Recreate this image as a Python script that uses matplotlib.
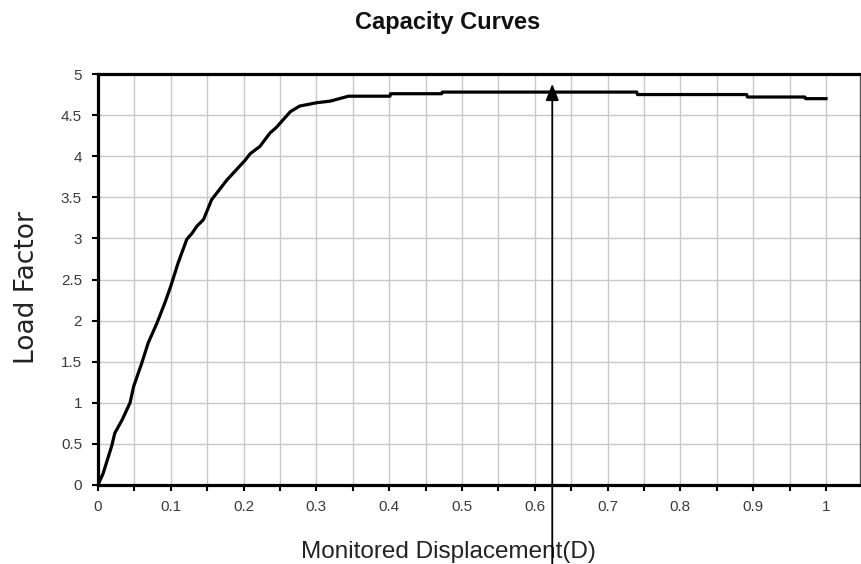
import matplotlib
matplotlib.use('Agg')
import matplotlib.pyplot as plt
from matplotlib.ticker import MultipleLocator

# Capacity curve
displacement = [0, 0.007, 0.019, 0.023, 0.033, 0.044, 0.049, 0.060, 0.069, 0.081,
                0.092, 0.100, 0.110, 0.122, 0.129, 0.136, 0.145, 0.156, 0.177, 0.202,
                0.209, 0.2225, 0.236, 0.245, 0.264, 0.277, 0.300, 0.319, 0.344, 0.401,
                0.402, 0.472, 0.473, 0.740, 0.741, 0.891, 0.892, 0.971, 0.972, 1.0]
load_factor = [0, 0.14, 0.48, 0.63, 0.79, 1.0, 1.20, 1.48, 1.73, 1.97,
               2.22, 2.42, 2.70, 2.99, 3.06, 3.15, 3.23, 3.47, 3.71, 3.95,
               4.03, 4.12, 4.28, 4.35, 4.54, 4.61, 4.65, 4.67, 4.73, 4.73,
               4.76, 4.76, 4.78, 4.78, 4.75, 4.75, 4.72, 4.72, 4.70, 4.70]

# performance point marker
arrow_x = 0.624
arrow_tip = 4.88

x_ticks = [0, 0.1, 0.2, 0.3, 0.4, 0.5, 0.6, 0.7, 0.8, 0.9, 1]
x_tick_labels = ['0', '0.1', '0.2', '0.3', '0.4', '0.5', '0.6', '0.7', '0.8', '0.9', '1']
y_ticks = [0, 0.5, 1, 1.5, 2, 2.5, 3, 3.5, 4, 4.5, 5]
y_tick_labels = ['0', '0.5', '1', '1.5', '2', '2.5', '3', '3.5', '4', '4.5', '5']

plt.rcParams['font.family'] = ['Liberation Sans', 'DejaVu Sans']

fig = plt.figure(figsize=(8.61, 5.64), dpi=100, facecolor='white')
ax = fig.add_axes([98 / 861, 79 / 564, 762 / 861, 411 / 564])

ax.plot(displacement, load_factor, color='black', linewidth=2.3, zorder=3)

ax.set_xlim(0, 1.0467)
ax.set_ylim(0, 5)

ax.set_xticks(x_ticks)
ax.set_xticklabels(x_tick_labels)
ax.xaxis.set_minor_locator(MultipleLocator(0.05))
ax.set_yticks(y_ticks)
ax.set_yticklabels(y_tick_labels)

ax.grid(True, which='both', color='#c8c8c8', linewidth=1.0, zorder=0)
ax.set_axisbelow(True)

ax.tick_params(axis='both', which='both', direction='out', length=4.5, width=1.5,
               color='black', labelsize=11, labelcolor='#3a3a3a')
ax.tick_params(axis='x', which='major', pad=6)
ax.tick_params(axis='y', which='major', pad=7)

for side in ['left', 'bottom', 'top']:
    ax.spines[side].set_linewidth(2.3)
    ax.spines[side].set_color('black')
ax.spines['right'].set_linewidth(1.0)
ax.spines['right'].set_color('#555555')

ax.set_xlabel('Monitored Displacement(D)', fontsize=17.5, color='#222222', va='baseline')
ax.xaxis.set_label_coords((448 - 98) / 762, (485 - 558) / 411)
ax.set_ylabel('Load Factor', fontsize=19, color='#222222', va='center',
              family=['DejaVu Sans'])
ax.yaxis.set_label_coords((27 - 98) / 762, (485 - 288) / 411)

fig.text(448 / 861, 1 - 23 / 564, 'Capacity Curves', ha='center', va='center',
         fontsize=17, fontweight='bold', color='#111111')

ax.annotate('', xy=(arrow_x, arrow_tip), xycoords='data',
            xytext=(arrow_x, 0), textcoords=('data', 'figure fraction'),
            arrowprops=dict(arrowstyle='-|>,head_length=1.0,head_width=0.4',
                            color='black', lw=1.3, shrinkA=0, shrinkB=0),
            annotation_clip=False, zorder=5)

plt.savefig('out.png', dpi=100, facecolor='white')
